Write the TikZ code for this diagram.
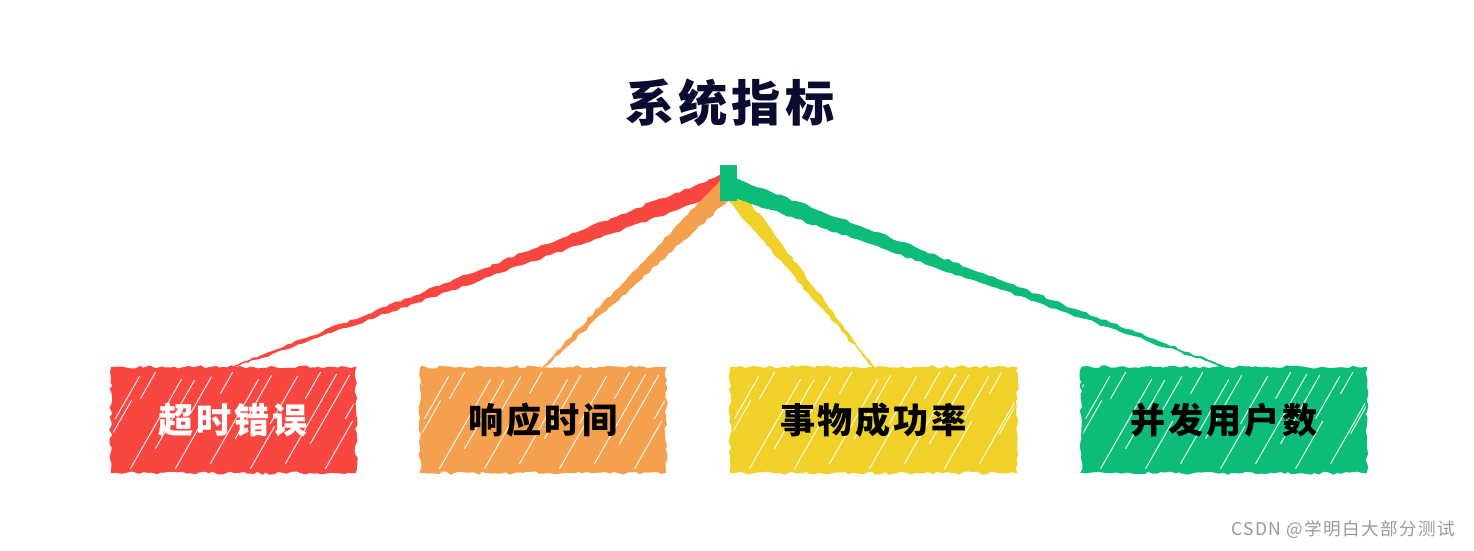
\documentclass[tikz,border=0pt]{standalone}
\usepackage{fontspec}
\newfontfamily\cjk[LetterSpace=8]{Noto Sans CJK SC}
\usetikzlibrary{positioning, calc, decorations.pathmorphing, backgrounds}
\definecolor{errred}{HTML}{F84640}
\definecolor{rtorange}{HTML}{F5A04F}
\definecolor{txyellow}{HTML}{F0D12A}
\definecolor{usrgreen}{HTML}{0DBC79}
\definecolor{titlenavy}{HTML}{0B0B30}

\begin{document}
\pgfmathsetseed{7}
\begin{tikzpicture}[
  card/.style={fill=#1, draw=#1, line width=1.2pt, minimum height=2.08cm, inner sep=0pt,
    decorate, decoration={random steps, segment length=2.5pt, amplitude=0.9pt},
    font=\cjk\bfseries\fontsize{20}{24}\selectfont,
    path picture={\foreach \k/\y/\l in {-0.9/0.1/1.6, -0.3/0.2/1.2, 0.1/1.1/0.8, 0.4/0.1/1.7,
        0.9/0.5/1.3, 1.3/0.1/0.9, 1.6/1.2/0.7, 2.0/0.2/1.6, 2.5/0.7/1.2, 2.8/0.1/0.8,
        3.2/1.0/0.9, 3.5/0.2/1.7, 4.0/0.6/1.3, 4.3/0.1/0.9, 4.7/1.1/0.8, 5.0/0.2/1.6,
        5.4/0.8/1.2, 5.8/0.1/0.7, 0.6/1.5/0.5, 2.2/1.6/0.4, 3.9/1.5/0.5, 5.2/1.6/0.4}
      \draw[white, opacity=0.85, line width=0.6pt, line cap=round]
        ($(path picture bounding box.south west)+(\k,\y)$) -- ++(0.6*\l,1.05*\l);}},
  wedge/.style={fill=#1, draw=#1, line width=0.8pt,
    decorate, decoration={random steps, segment length=3pt, amplitude=0.7pt}}
]
  \useasboundingbox (0,0) rectangle (29.48,11);

  % タイトル
  \node[font=\cjk\bfseries\fontsize{28}{32}\selectfont, text=titlenavy] (title) at (14.6,8.94) {系统指标};

  % 中心
  \node[fill=usrgreen, minimum width=0.34cm, minimum height=0.72cm, inner sep=0pt] (hub) at (14.57,7.34) {};

  % 四つの指標
  \node[card=errred, minimum width=4.86cm, text=white] (err) at (4.67,2.6) {超时错误};
  \node[card=rtorange, minimum width=4.88cm, text=black] (rt) at (10.86,2.6) {响应时间};
  \node[card=txyellow, minimum width=5.7cm, text=black] (tx) at (17.47,2.6) {事物成功率};
  \node[card=usrgreen, minimum width=5.68cm, text=black] (usr) at (24.48,2.6) {并发用户数};

  % 接続線（くさび形）
  \begin{scope}[on background layer]
    \draw[wedge=errred] ($(hub.center)+(-0.1,0.16)$) -- ($(hub.center)+(0.02,-0.16)$) -- (err.north) -- cycle;
    \draw[wedge=rtorange] ($(hub.center)+(0.14,-0.2)$) -- ($(hub.center)+(-0.16,0.04)$) -- (rt.north) -- cycle;
    \draw[wedge=txyellow] ($(hub.center)+(0.13,0.0)$) -- ($(hub.center)+(-0.13,-0.2)$) -- (tx.north) -- cycle;
    \draw[wedge=usrgreen] ($(hub.center)+(0.05,0.12)$) -- ($(hub.center)+(-0.02,-0.22)$) -- (usr.north) -- cycle;
  \end{scope}

  % 透かし
  \node[font=\cjk\fontsize{10}{12}\selectfont, text=black!40] (mark) at (26.86,0.4) {CSDN @学明白大部分测试};
\end{tikzpicture}
\end{document}
